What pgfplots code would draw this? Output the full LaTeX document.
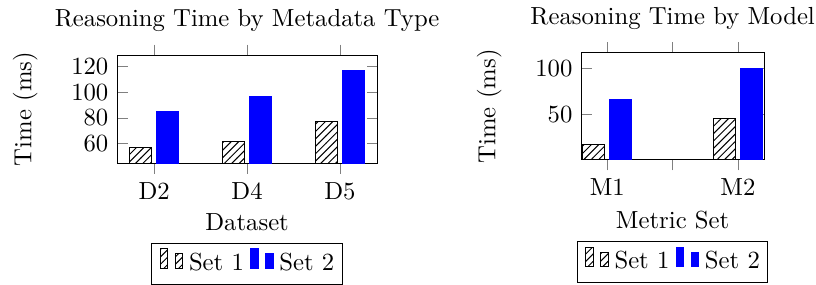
\documentclass[border=0pt]{standalone}
\usepackage{pgfplots}
\pgfplotsset{compat=1.18}
\usetikzlibrary{patterns}
\begin{document}
\begin{tikzpicture}
\pgfplotsset{
  mybars/.style={
    scale only axis,
    ybar=2pt,
    bar width=9pt,
    xtick align=outside,
    ytick align=inside,
    xmin=-0.4, xmax=2.4,
    xtick={0,1,2},
    legend columns=-1,
    every axis y label/.style={at={([xshift=-34.7pt]axis description cs:0,0.5)}, rotate=90, anchor=base},
    every axis x label/.style={at={([yshift=-17.1pt]axis description cs:0.5,0)}, anchor=north},
    legend style={
      anchor=north,
      inner xsep=3.2pt,
      nodes={inner xsep=0pt},
      /tikz/every odd column/.append style={column sep=2.4pt},
      /tikz/column 2/.append style={column sep=2.6pt},
    },
  }
}
\begin{axis}[
  mybars,
  name=ax1,
  at={(0pt,0pt)}, anchor=south west,
  width=105.3pt, height=43.7pt,
  ymin=45, ymax=129,
  ytick={60,80,100,120},
  xticklabels={D2,D4,D5},
  title={Reasoning Time by Metadata Type},
  xlabel={Dataset},
  ylabel={Time (ms)},
  legend style={at={(0.5,-0.74)}},
]
\addplot[draw=black, pattern=north east lines] coordinates {(0,57) (1,62) (2,77)};
\addplot[draw=blue, fill=blue] coordinates {(0,85) (1,97) (2,117)};
\legend{Set 1, Set 2\hspace{2pt}}
\end{axis}
\begin{axis}[
  mybars,
  name=ax2,
  at={(187.9pt,1.3pt)}, anchor=south west,
  width=74.1pt, height=43.3pt,
  ymin=0.4, ymax=116.6,
  ytick={50,100},
  xticklabels={M1,,M2},
  title={Reasoning Time by Model},
  xlabel={Metric Set},
  ylabel={Time (ms)},
  legend style={at={(0.5,-0.76)}},
]
\addplot[draw=black, pattern=north east lines] coordinates {(0,17) (2,45)};
\addplot[draw=blue, fill=blue] coordinates {(0,66) (2,100)};
\legend{Set 1, Set 2\hspace{2pt}}
\end{axis}
\pgfresetboundingbox
\path (-47.4pt,-49.0pt) rectangle ++(330.4pt,115pt);
\end{tikzpicture}
\end{document}
